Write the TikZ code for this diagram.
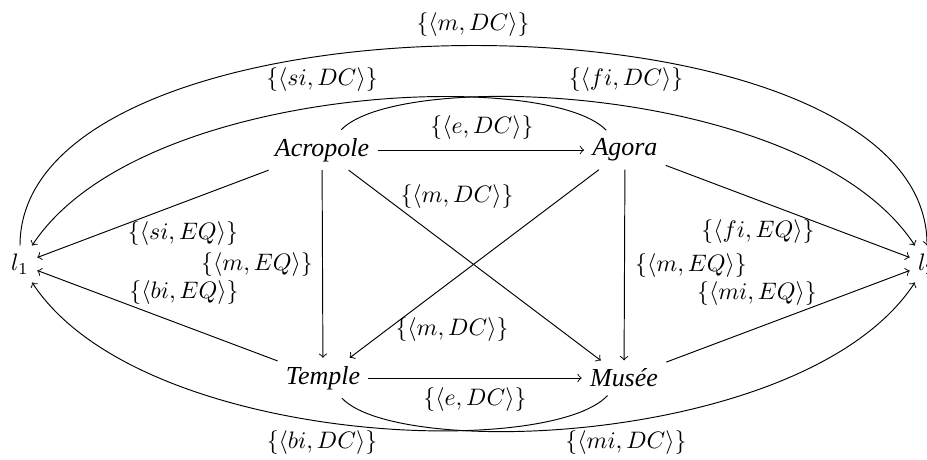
\documentclass[tikz,border=0pt]{standalone}
\usepackage{fontspec}
\newfontfamily\placefont[UprightFont={* Italic}]{Liberation Serif}
\begin{document}
\begin{tikzpicture}[x=0.42pt,y=-0.42pt,
  place/.style={inner sep=3.333pt,font=\placefont\fontsize{10.9}{13}\selectfont},
  lbl/.style={inner sep=0pt},
  arr/.style={->}]
\useasboundingbox (0,0) rectangle (927,459);
\clip (0,0) rectangle (927,459);
% places
\node[place] (acr) at (322,150) {Acropole};
\node[place] (ago) at (625,150) {Agora};
\node[place] (tem) at (323,378) {Temple};
\node[place] (mus) at (624,378) {Musée};
\node[inner sep=3.333pt] (l1) at (20,264) {$l_1$};
\node[inner sep=3.333pt] (l2) at (927,264) {$l_2$};
% straight connectors
\draw[arr] (acr) -- (ago);
\draw[arr] (tem) -- (mus);
\draw[arr] (acr) -- (tem);
\draw[arr] (ago) -- (mus);
\draw[arr] (acr) -- (mus);
\draw[arr] (ago) -- (tem);
\draw[arr] (acr) -- (l1);
\draw[arr] (tem) -- (l1);
\draw[arr] (ago) -- (l2);
\draw[arr] (mus) -- (l2);
% curved connectors
\draw[arr] (l1) .. controls (20,-21) and (927,-21) .. (l2);
\draw[arr] (acr) .. controls (400,68) and (809,84) .. (l2);
\draw[arr] (ago) .. controls (547,68) and (138,84) .. (l1);
\draw[arr] (tem) .. controls (400,460) and (809,444) .. (l2);
\draw[arr] (mus) .. controls (547,460) and (138,444) .. (l1);
% labels
\node[lbl] (lmdc0) at (473,25) {$\{\langle m, DC\rangle\}$};
\node[lbl] (lsidc) at (322,80) {$\{\langle si, DC\rangle\}$};
\node[lbl] (lfidc) at (626,80) {$\{\langle fi, DC\rangle\}$};
\node[lbl] (le1) at (482,128) {$\{\langle e, DC\rangle\}$};
\node[lbl] (le2) at (475,400) {$\{\langle e, DC\rangle\}$};
\node[lbl] (lbidc) at (322,443) {$\{\langle bi, DC\rangle\}$};
\node[lbl] (lmidc) at (626,443) {$\{\langle mi, DC\rangle\}$};
\node[lbl] (lsieq) at (183,234) {$\{\langle si, EQ\rangle\}$};
\node[lbl] (lbieq) at (184,293) {$\{\langle bi, EQ\rangle\}$};
\node[lbl] (lmeq1) at (257,265) {$\{\langle m, EQ\rangle\}$};
\node[lbl] (lmeq2) at (691,266) {$\{\langle m, EQ\rangle\}$};
\node[lbl] (lfieq) at (758,232) {$\{\langle fi, EQ\rangle\}$};
\node[lbl] (lmieq) at (757,294) {$\{\langle mi, EQ\rangle\}$};
\node[lbl] (lmdc1) at (457,197) {$\{\langle m, DC\rangle\}$};
\node[lbl] (lmdc2) at (452,330) {$\{\langle m, DC\rangle\}$};
\end{tikzpicture}
\end{document}
